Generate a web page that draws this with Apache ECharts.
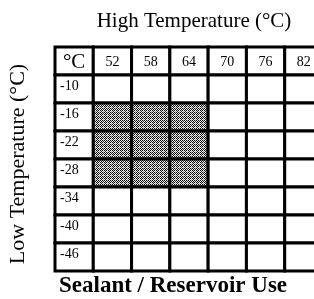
<!DOCTYPE html>
<html>
<head>
<meta charset="utf-8">
<script src="https://cdn.jsdelivr.net/npm/echarts@6/dist/echarts.min.js"></script>
<style>
html, body { margin: 0; padding: 0; background: #fff; }
#chart1 { width: 314px; height: 299px; }
</style>
</head>
<body>
<div id="chart1"></div>
<script>
// column / row headings
var highTemps = ['52', '58', '64', '70', '76', '82'];
var lowTemps = ['-10', '-16', '-22', '-28', '-34', '-40', '-46'];
// shaded grades
var shadedHigh = ['52', '58', '64'];
var shadedLow = ['-16', '-22', '-28'];

var xCats = ['°C'].concat(highTemps);
var yCats = ['°C'].concat(lowTemps);

// dither tile for shaded cells
function makePattern() {
    var c = document.createElement('canvas');
    c.width = 4;
    c.height = 4;
    var ctx = c.getContext('2d');
    var px = [
        '#000', '#fff', '#000', '#ccc',
        '#fff', '#000', '#eee', '#222',
        '#000', '#ccc', '#000', '#fff',
        '#eee', '#222', '#fff', '#999'
    ];
    for (var i = 0; i < 16; i++) {
        ctx.fillStyle = px[i];
        ctx.fillRect(i % 4, Math.floor(i / 4), 1, 1);
    }
    return { image: c, repeat: 'repeat' };
}
var pattern = makePattern();

var cells = [];
for (var r = 0; r < yCats.length; r++) {
    for (var c = 0; c < xCats.length; c++) {
        var label = '';
        if (r === 0) label = xCats[c];
        else if (c === 0) label = yCats[r];
        var shaded = shadedHigh.indexOf(xCats[c]) >= 0 && shadedLow.indexOf(yCats[r]) >= 0;
        cells.push([c, r, label, shaded ? 1 : 0]);
    }
}

function renderItem(params, api) {
    var p = api.coord([api.value(0), api.value(1)]);
    var s = api.size([1, 1]);
    var col = api.value(0), row = api.value(1);
    var x = p[0] - s[0] / 2, y = p[1] - s[1] / 2;
    var children = [{
        type: 'rect',
        shape: { x: x, y: y, width: s[0], height: s[1] },
        style: { fill: api.value(3) ? pattern : '#fff', stroke: '#000', lineWidth: 3 }
    }];
    var label = cells[params.dataIndex][2];
    if (label) {
        var big = row === 0 && col === 0;
        children.push({
            type: 'text',
            style: {
                text: label,
                x: row === 0 ? p[0] : x + 5,
                y: row === 0 ? p[1] + 1 : p[1] - 3,
                align: row === 0 ? 'center' : 'left',
                verticalAlign: 'middle',
                font: (big ? '21px' : '14px') + ' "Liberation Serif"',
                fill: '#000'
            }
        });
    }
    return { type: 'group', children: children };
}

var chart = echarts.init(document.getElementById('chart1'));
chart.setOption({
    animation: false,
    title: [{
        text: 'High Temperature (°C)',
        left: 189, top: 6, textAlign: 'center',
        textStyle: { fontFamily: 'Liberation Serif', fontWeight: 'normal', fontSize: 21, color: '#000' }
    }, {
        text: 'Sealant / Reservoir Use',
        left: 54, top: 270,
        textStyle: { fontFamily: 'Liberation Serif', fontWeight: 'bold', fontSize: 23, color: '#000' }
    }],
    graphic: [{
        type: 'text',
        x: 18, y: 164, rotation: Math.PI / 2,
        style: {
            text: 'Low Temperature (°C)',
            align: 'center', verticalAlign: 'middle',
            font: '22px "Liberation Serif"', fill: '#000'
        }
    }],
    grid: { left: 55, top: 47, width: 268, height: 224, outerBoundsMode: 'none' },
    xAxis: { type: 'category', data: xCats, show: false },
    yAxis: { type: 'category', data: yCats, inverse: true, show: false },
    series: [{
        type: 'custom',
        renderItem: renderItem,
        data: cells,
        encode: { x: 0, y: 1 },
        silent: true
    }]
});
</script>
</body>
</html>
